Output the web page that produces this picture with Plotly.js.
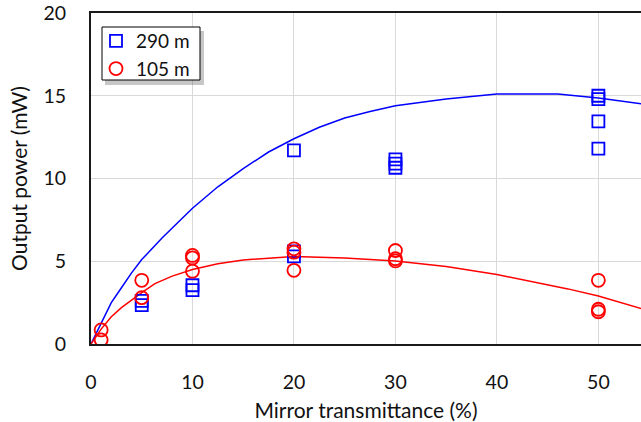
<!DOCTYPE html>
<html>
<head>
<meta charset="utf-8">
<script src="https://cdn.plot.ly/plotly-3.0.1.min.js"></script>
<style>html,body{margin:0;padding:0;background:#fff}#chart{width:641px;height:422px}</style>
</head>
<body>
<div id="chart"></div>
<script>
// Measured points, 290 m fibre
const x290 = [5, 5, 10, 10, 20, 20, 20, 30, 30, 30, 50, 50, 50, 50];
const y290 = [2.35, 2.6, 3.55, 3.25, 11.7, 5.6, 5.3, 11.15, 10.9, 10.65, 15.0, 14.8, 13.45, 11.8];
// Measured points, 105 m fibre
const x105 = [1, 1, 5, 5, 10, 10, 10, 20, 20, 20, 30, 30, 30, 50, 50, 50];
const y105 = [0.85, 0.25, 3.85, 2.8, 5.35, 5.2, 4.4, 5.75, 5.55, 4.45, 5.65, 5.15, 5.02, 3.85, 2.1, 1.95];
// Fitted curves
const fitX290 = [0, 1, 2, 3, 4, 5, 7, 10, 12.5, 15, 17.5, 20, 22.5, 25, 27.5, 30, 35, 40, 46, 50, 55];
const fitY290 = [0, 1.3, 2.5, 3.4, 4.3, 5.1, 6.4, 8.2, 9.5, 10.6, 11.6, 12.4, 13.1, 13.65, 14.05, 14.4, 14.8, 15.1, 15.1, 14.86, 14.45];
const fitX105 = [0, 1, 2, 3, 5, 6.3, 8, 10, 12.5, 15, 20, 25, 30, 35, 40, 42, 47, 50, 55];
const fitY105 = [0, 0.9, 1.65, 2.2, 3.1, 3.65, 4.1, 4.5, 4.85, 5.08, 5.28, 5.2, 5.02, 4.68, 4.2, 3.96, 3.33, 2.9, 2.0];
const xTicks = [0, 10, 20, 30, 40, 50];
const yTicks = [0, 5, 10, 15, 20];
const names = ['290 m', '105 m'];

const font = 'Lato, "Open Sans", sans-serif';
const traces = [
  {x: fitX290, y: fitY290, mode: 'lines', line: {color: '#0000ff', width: 1.5, shape: 'linear'}, showlegend: false, hoverinfo: 'skip'},
  {x: fitX105, y: fitY105, mode: 'lines', line: {color: '#ff0000', width: 1.5, shape: 'linear'}, showlegend: false, hoverinfo: 'skip'},
  {x: x290, y: y290, mode: 'markers', name: names[0], marker: {symbol: 'square-open', size: 12, color: '#0000ff', line: {width: 1.8, color: '#0000ff'}}},
  {x: x105, y: y105, mode: 'markers', name: names[1], marker: {symbol: 'circle-open', size: 13, color: '#ff0000', line: {width: 1.8, color: '#ff0000'}}}
];
// pixel -> paper helpers for the legend frame
const L = 91, W = 550, T = 13, H = 331;
const px = v => (v - L) / W;
const py = v => (T + H - v) / H;
const layout = {
  width: 641, height: 422,
  margin: {l: 91, r: 0, t: 13, b: 78, pad: 0},
  paper_bgcolor: '#fff', plot_bgcolor: '#fff',
  font: {family: font, size: 19.5, color: '#111'},
  showlegend: true,
  legend: {x: px(96), y: py(22), xanchor: 'left', yanchor: 'top', bgcolor: 'rgba(0,0,0,0)', borderwidth: 0,
           font: {family: font, size: 19, color: '#111'}, tracegroupgap: 0, itemwidth: 30},
  xaxis: {range: [0, 54.2], tickvals: xTicks, ticktext: xTicks.map(String), showgrid: true, gridcolor: '#d9d9d9', gridwidth: 1,
          showline: true, linecolor: '#1a1a1a', linewidth: 2, mirror: true, zeroline: false, ticks: '', ticklabelstandoff: 20,
          title: {text: 'Mirror transmittance (%)', font: {family: font, size: 21, color: '#111'}, standoff: 12}},
  yaxis: {range: [0, 20], tickvals: yTicks, ticktext: yTicks.map(String), showgrid: true, gridcolor: '#d9d9d9', gridwidth: 1,
          showline: true, linecolor: '#1a1a1a', linewidth: 2, mirror: true, zeroline: false, ticks: '', ticklabelstandoff: 19,
          title: {text: 'Output power (mW)', font: {family: font, size: 21, color: '#111'}, standoff: 10}},
  shapes: [
    {type: 'rect', xref: 'paper', yref: 'paper', x0: px(105), x1: px(204), y0: py(85), y1: py(31), fillcolor: 'rgba(0,0,0,0.22)', line: {width: 0}, layer: 'above'},
    {type: 'rect', xref: 'paper', yref: 'paper', x0: px(102), x1: px(200), y0: py(80), y1: py(27), fillcolor: '#fff', line: {width: 1, color: '#000'}, layer: 'above'}
  ]
};
Plotly.newPlot('chart', traces, layout, {staticPlot: true});
</script>
</body>
</html>
